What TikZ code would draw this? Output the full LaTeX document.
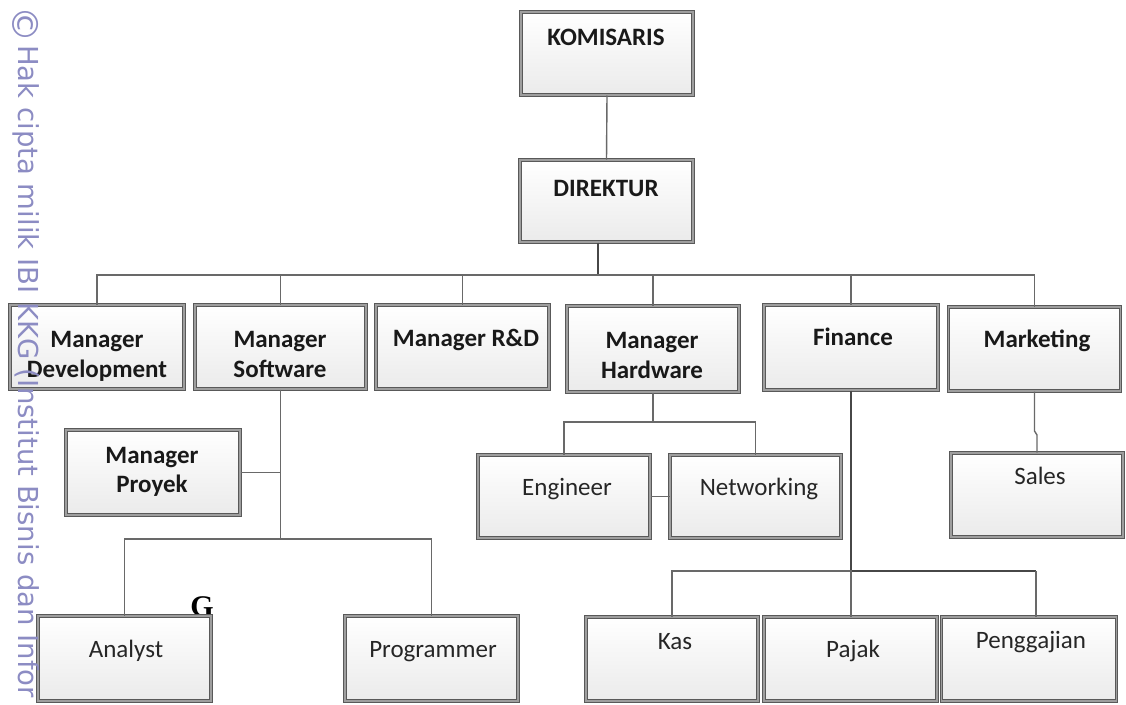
\documentclass[tikz,border=0pt]{standalone}
\usepackage{fontspec}
\setmainfont{Carlito}
\newfontfamily\wmfont{DejaVu Sans}
\newfontfamily\serfont{Liberation Serif}
\definecolor{wmc}{RGB}{140,140,195}
\definecolor{lnc}{RGB}{105,105,105}
\begin{document}
\begin{tikzpicture}[x=1pt,y=-1pt,
 box/.style={draw=black!65, double=black!38, double distance=1.8pt, line width=1pt, top color=white, bottom color=black!8, inner sep=0pt},
 bt/.style={font=\fontsize{25}{30}\selectfont\bfseries, anchor=base, inner sep=0pt, text=black!90},
 rt/.style={font=\fontsize{25}{30}\selectfont, anchor=base, inner sep=0pt, text=black!85},
 con/.style={draw=lnc, line width=1.4pt},
]
\useasboundingbox (0,0) rectangle (1126,704);
\newcommand\bx[5]{\node[box, minimum width=#4pt, minimum height=#5pt] (#1) at (#2,#3) {};}
% G mark (partly hidden by Analyst box)
\node[font=\serfont\bfseries\fontsize{30}{30}\selectfont, inner sep=0pt] (gmark) at (202,607) {G};
% boxes
\bx{kom}{607}{53.5}{172}{83}
\bx{dir}{606.5}{201}{173}{82}
\bx{dev}{97}{347}{174}{84}
\bx{sw}{280.5}{347}{171}{84}
\bx{rd}{462.5}{347}{173}{84}
\bx{hw}{653}{349}{172}{86}
\bx{fin}{851}{347.5}{174}{85}
\bx{mkt}{1034.5}{349}{172}{84}
\bx{pro}{153}{472.5}{174}{85}
\bx{eng}{564}{496.5}{172}{83}
\bx{net}{755.5}{496.5}{171}{83}
\bx{sal}{1037}{495}{172}{84}
\bx{ana}{124.5}{658.5}{173}{85}
\bx{prg}{431.5}{658.5}{173}{85}
\bx{kas}{672}{659}{172}{84}
\bx{paj}{850.5}{659}{173}{84}
\bx{pen}{1029}{659}{175}{84}
% texts
\node[bt] (tkom) at (606,45) {KOMISARIS};
\node[bt] (tdir) at (606,196) {DIREKTUR};
\node[bt] (tdev1) at (97,347) {Manager};
\node[bt] (tdev2) at (97,377) {Development};
\node[bt] (tsw1) at (280,347) {Manager};
\node[bt] (tsw2) at (280,377) {Software};
\node[bt] (trd) at (466,346) {Manager R\&D};
\node[bt] (thw1) at (652,348) {Manager};
\node[bt] (thw2) at (652,378) {Hardware};
\node[bt] (tfin) at (853,345) {Finance};
\node[bt] (tmkt) at (1037,347) {Marketing};
\node[bt] (tpro1) at (152,463) {Manager};
\node[bt] (tpro2) at (152,492) {Proyek};
\node[rt] (teng) at (567,495) {Engineer};
\node[rt] (tnet) at (759,495) {Networking};
\node[rt] (tsal) at (1040,484) {Sales};
\node[rt] (tana) at (126,657) {Analyst};
\node[rt] (tprg) at (433,657) {Programmer};
\node[rt] (tkas) at (675,649) {Kas};
\node[rt] (tpaj) at (853,657) {Pajak};
\node[rt] (tpen) at (1031,648) {Penggajian};
% connectors
\coordinate (b0) at (598,275);
\coordinate (swb) at (280.5,539);
\coordinate (hwb) at (653,422);
\coordinate (finb) at (851,571);
\coordinate (penx) at (1036,571);
\coordinate (mj1) at (1034.5,431);
\coordinate (mj2) at (1037,435);
\draw[con] (kom.south) -- (dir.north);
\draw[con, line width=1.9pt, draw=black!72] (dir.south -| b0) -- (b0);
\draw[con] (dev.north) |- (b0) -| (mkt.north);
\foreach \n in {sw,rd,hw,fin} \draw[con] (\n.north) -- (\n.north |- b0);
\draw[con] (sw.south) -- (swb);
\draw[con] (pro.east) -- (pro.east -| sw.south);
\draw[con] (ana.north) |- (swb) -| (prg.north);
\draw[con] (hw.south) -- (hwb);
\draw[con] (eng.north) |- (hwb) -| (net.north);
\draw[con] (eng.east) -- (net.west);
\draw[con, draw=black!72] (fin.south) -- (finb) -- (penx);
\draw[con] (penx) -- (penx |- pen.north);
\draw[con] (kas.north) |- (finb) -- (finb |- paj.north);
\draw[con] (mkt.south) -- (mj1) -- (mj2) -- (sal.north);
% watermark
\node[rotate=-90, font=\wmfont\fontsize{36}{36}\selectfont, text=wmc, inner sep=0pt] (cp) at (26,24) {©};
\node[rotate=-90, anchor=base west, font=\wmfont\fontsize{27.5}{27.5}\selectfont, text=wmc, inner sep=0pt] (wm) at (18,45) {Hak cipta milik IBI KKG (Institut Bisnis dan Infor};
\end{tikzpicture}
\end{document}
